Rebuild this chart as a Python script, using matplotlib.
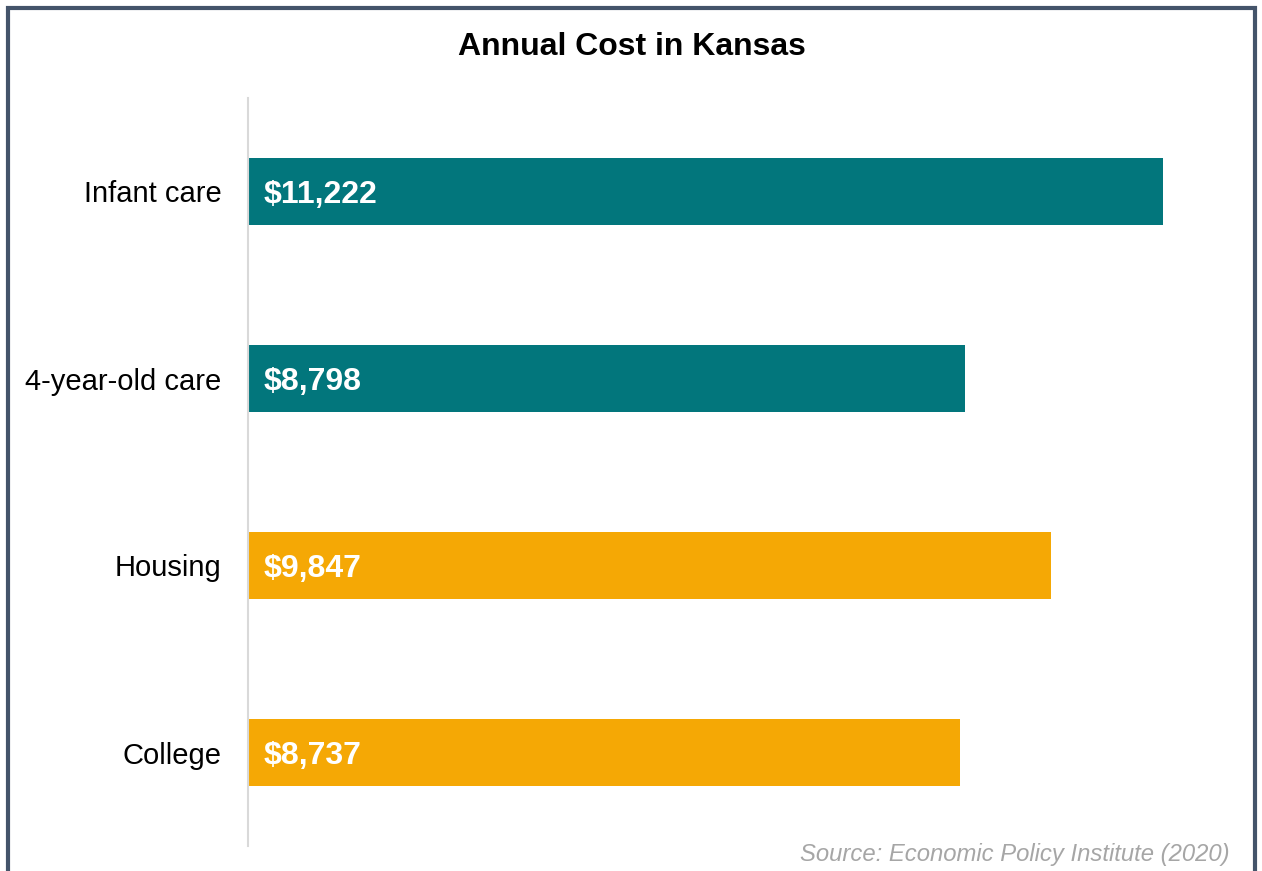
import matplotlib.pyplot as plt
from matplotlib.lines import Line2D

categories = ["Infant care", "4-year-old care", "Housing", "College"]
costs = [11222, 8798, 9847, 8737]
bar_colors = ["#02767C", "#02767C", "#F5A805", "#F5A805"]
title = "Annual Cost in Kansas"
source = "Source: Economic Policy Institute (2020)"

plt.rcParams["font.family"] = ["Liberation Sans", "DejaVu Sans"]

W, H = 1262, 871
fig = plt.figure(figsize=(W / 100, H / 100), dpi=100)

# axes placed in pixel terms: y-axis line at x=248, spans y=98..846
left, right, top, bottom = 248, 1250, 98, 846
ax = fig.add_axes([left / W, 1 - bottom / H, (right - left) / W, (bottom - top) / H])

px_per_unit = (1163 - 248) / 11222
ax.set_xlim(0, (right - left) / px_per_unit)
ax.set_ylim(len(categories) - 0.5, -0.5)

ypos = list(range(len(categories)))
ax.barh(ypos, costs, height=0.36, color=bar_colors)

for y, v in zip(ypos, costs):
    ax.text(190, y, "${:,}".format(v), color="white", fontsize=23,
            fontweight="bold", va="center_baseline", ha="left")

ax.set_yticks(ypos)
ax.set_yticklabels(categories, fontsize=21)
ax.tick_params(axis="y", length=0, pad=19)
ax.set_xticks([])
for s in ["top", "right", "bottom"]:
    ax.spines[s].set_visible(False)
ax.spines["left"].set_color("#D9D9D9")
ax.spines["left"].set_linewidth(1.5)

fig.text(632 / W, 1 - 47 / H, title, ha="center", va="center",
         fontsize=23, fontweight="bold")
fig.text(1230 / W, 1 - 854 / H, source, ha="right", va="center",
         fontsize=17.2, style="italic", color="#A6A6A6")

# frame around the chart (open at the bottom)
border = "#44546A"
bx0, bx1, by0 = 8 / W, 1255 / W, 1 - 8 / H
fig.add_artist(Line2D([bx0, bx0, bx1, bx1], [0, by0, by0, 0],
                      transform=fig.transFigure, color=border, linewidth=3,
                      solid_joinstyle="miter"))

fig.savefig("out.png", dpi=100)
